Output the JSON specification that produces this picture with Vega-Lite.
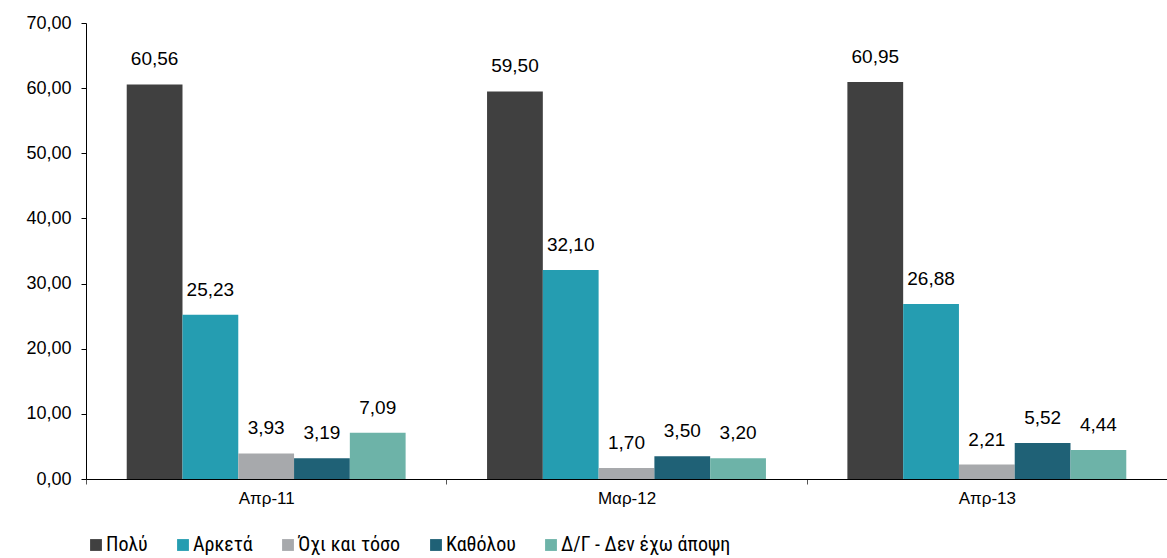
{
  "$schema": "https://vega.github.io/schema/vega-lite/v6.json",
  "autosize": {"type": "none"},
  "width": 1081,
  "height": 456,
  "padding": {"left": 86, "top": 23, "right": 0, "bottom": 79},
  "background": "white",
  "config": {
    "locale": {"number": {"decimal": ",", "thousands": ".", "grouping": [3], "currency": ["", " €"]}},
    "view": {"stroke": null},
    "font": "Liberation Sans"
  },
  "data": {
    "values": [
      {"period": "Απρ-11", "answer": "Πολύ", "value": 60.56},
      {"period": "Απρ-11", "answer": "Αρκετά", "value": 25.23},
      {"period": "Απρ-11", "answer": "Όχι και τόσο", "value": 3.93},
      {"period": "Απρ-11", "answer": "Καθόλου", "value": 3.19},
      {"period": "Απρ-11", "answer": "Δ/Γ -  Δεν έχω άποψη", "value": 7.09},
      {"period": "Μαρ-12", "answer": "Πολύ", "value": 59.50},
      {"period": "Μαρ-12", "answer": "Αρκετά", "value": 32.10},
      {"period": "Μαρ-12", "answer": "Όχι και τόσο", "value": 1.70},
      {"period": "Μαρ-12", "answer": "Καθόλου", "value": 3.50},
      {"period": "Μαρ-12", "answer": "Δ/Γ -  Δεν έχω άποψη", "value": 3.20},
      {"period": "Απρ-13", "answer": "Πολύ", "value": 60.95},
      {"period": "Απρ-13", "answer": "Αρκετά", "value": 26.88},
      {"period": "Απρ-13", "answer": "Όχι και τόσο", "value": 2.21},
      {"period": "Απρ-13", "answer": "Καθόλου", "value": 5.52},
      {"period": "Απρ-13", "answer": "Δ/Γ -  Δεν έχω άποψη", "value": 4.44}
    ]
  },
  "encoding": {
    "x": {
      "field": "period", "type": "nominal", "sort": ["Απρ-11", "Μαρ-12", "Απρ-13"],
      "scale": {"paddingInner": 0, "paddingOuter": 0},
      "axis": {"title": null, "labelAngle": 0, "labelFontSize": 17, "labelColor": "#000", "labelPadding": 6,
               "domainColor": "#000", "tickColor": "#555", "tickBand": "extent", "tickSize": 5}
    },
    "xOffset": {
      "field": "answer", "type": "nominal",
      "sort": ["Πολύ", "Αρκετά", "Όχι και τόσο", "Καθόλου", "Δ/Γ -  Δεν έχω άποψη"],
      "scale": {"paddingInner": 0, "paddingOuter": 0.73}
    },
    "y": {
      "field": "value", "type": "quantitative",
      "scale": {"domain": [0, 70]},
      "axis": {"title": null, "values": [0, 10, 20, 30, 40, 50, 60, 70], "format": ".2f", "grid": false,
               "labelFontSize": 18, "labelColor": "#000", "labelPadding": 10, "domainColor": "#000",
               "tickColor": "#000", "tickSize": 5}
    }
  },
  "layer": [
    {
      "mark": {"type": "bar"},
      "encoding": {
        "color": {
          "field": "answer", "type": "nominal",
          "sort": ["Πολύ", "Αρκετά", "Όχι και τόσο", "Καθόλου", "Δ/Γ -  Δεν έχω άποψη"],
          "scale": {"domain": ["Πολύ", "Αρκετά", "Όχι και τόσο", "Καθόλου", "Δ/Γ -  Δεν έχω άποψη"],
                    "range": ["#404040", "#259db1", "#a7a9ac", "#1f6176", "#6db3a8"]},
          "legend": {
            "title": null, "orient": "none", "legendX": 0, "legendY": 512, "direction": "horizontal",
            "symbolType": "square", "symbolSize": 140, "symbolStrokeWidth": 0,
            "labelFontSize": 20, "labelColor": "#000", "labelFont": "Roboto Condensed, Liberation Sans Narrow, Liberation Sans",
            "columnPadding": 25, "labelOffset": 0, "labelLimit": 400
          }
        }
      }
    },
    {
      "mark": {"type": "text", "baseline": "bottom", "dy": -15, "fontSize": 19, "color": "#000"},
      "encoding": {
        "text": {"field": "value", "type": "quantitative", "format": ".2f"}
      }
    }
  ]
}
